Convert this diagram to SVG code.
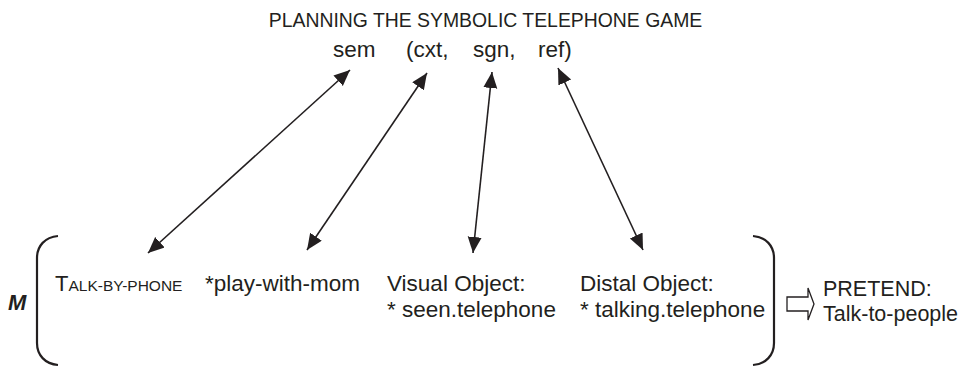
<svg xmlns="http://www.w3.org/2000/svg" width="973" height="367" viewBox="0 0 973 367">
<style>
text { font-family: "Liberation Sans", Arial, sans-serif; fill: #231f20; }
.t { font-size: 22.5px; }
.hdr { font-size: 19.4px; }
.lnk { fill: none; stroke: #231f20; stroke-width: 1.6; marker-start: url(#ah); marker-end: url(#ah); }
.brk { fill: none; stroke: #231f20; stroke-width: 2.2; }
</style>
<defs>
<marker id="ah" markerUnits="userSpaceOnUse" markerWidth="17" markerHeight="15" refX="16" refY="7" orient="auto-start-reverse">
<path d="M0,0 L16,7 L0,14 z" fill="#231f20"/>
</marker>
</defs>
<rect width="973" height="367" fill="#ffffff"/>
<g id="title">
<text class="hdr" x="485.5" y="27" text-anchor="middle">PLANNING THE SYMBOLIC TELEPHONE GAME</text>
</g>
<g id="sem"><text class="t" x="333" y="57">sem</text></g>
<g id="cxt"><text class="t" x="406" y="57">(cxt,</text></g>
<g id="sgn"><text class="t" x="473" y="57">sgn,</text></g>
<g id="ref"><text class="t" x="538" y="57">ref)</text></g>
<g id="connectors">
<path class="lnk" d="M350,70 L148,253"/>
<path class="lnk" d="M427,73 L307,250"/>
<path class="lnk" d="M492,72 L473,253"/>
<path class="lnk" d="M558,68 L643,250"/>
</g>
<g id="M"><text x="8" y="310" font-size="22" font-weight="bold" font-style="italic">M</text></g>
<g id="matrix">
<path class="brk" d="M58,236 C45,237 37,246 37,258 L37,343 C37,355 45,364 58,365"/>
<path class="brk" d="M753,236 C766,237 774,246 774,258 L774,343 C774,355 766,364 753,365"/>
</g>
<g id="talk-by-phone"><text x="55" y="291" font-size="22">T<tspan font-size="15.5">ALK-BY-PHONE</tspan></text></g>
<g id="play-with-mom"><text class="t" x="205" y="291">*play-with-mom</text></g>
<g id="visual-object">
<text class="t" x="387" y="291">Visual Object:</text>
<text class="t" x="387" y="317">* seen.telephone</text>
</g>
<g id="distal-object">
<text class="t" x="580" y="291">Distal Object:</text>
<text class="t" x="580" y="317">* talking.telephone</text>
</g>
<g id="implies">
<path d="M787,297 L808,297 L808,288 L814,304 L808,320 L808,311 L787,311 z" fill="none" stroke="#231f20" stroke-width="1.3"/>
</g>
<g id="pretend">
<text x="823" y="296" font-size="21.5">PRETEND:</text>
<text x="823" y="321" font-size="21.5">Talk-to-people</text>
</g>
</svg>
